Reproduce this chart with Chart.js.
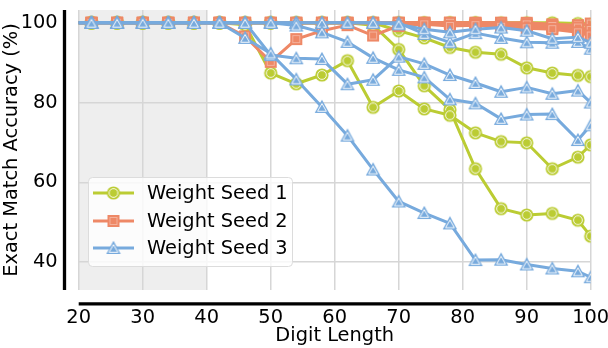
<!DOCTYPE html>
<html><head><meta charset="utf-8">
<script src="https://cdn.jsdelivr.net/npm/chart.js@4.4.1/dist/chart.umd.min.js"></script>
<style>html,body{margin:0;padding:0;background:#fff}</style>
</head><body>
<canvas id="c" width="608" height="348"></canvas>
<script>
// ---- data ----
const digitLengths = [18,22,26,30,34,38,42,46,50,54,58,62,66,70,74,78,82,86,90,94,98,100];
const xTicks = [20,30,40,50,60,70,80,90,100];
const yTicks = [40,60,80,100];
const seedLabels = ['Weight Seed 1','Weight Seed 2','Weight Seed 3'];

// Weight Seed 1 (green)
const seed1RunA = [100,100,100,100,100,100,100,99.5,87.4,84.7,86.9,90.5,78.8,82.9,78.4,76.8,72.4,70.2,69.9,63.4,66.3,69.4];
const seed1RunB = [100,100,100,100,100,100,100,100,100,100,100,100,99.4,93.3,84.2,78.2,63.4,53.4,51.8,52.2,50.5,46.5];
const seed1RunC = [100,100,100,100,100,100,100,100,100,100,100,100,100,98.0,96.2,93.8,92.6,92.1,88.7,87.4,86.8,86.5];
const seed1RunD = [100,100,100,100,100,100,100,100,100,100,100,100,100,100,100,100,100,99.6,99.2,99.4,98.6,97.8];
const seed1RunE = [100,100,100,100,100,100,100,100,100,100,100,100,100,100,100,100,100,100,100,100,99.8,99.6];

// Weight Seed 2 (orange)
const seed2RunA = [100,100,100,100,100,100,100,96.6,90.2,95.9,98.0,99.4,96.8,99.2,99.6,99.2,99.4,99.0,98.6,98.4,97.6,96.8];
const seed2RunB = [100,100,100,100,100,100,100,100,100,100,100,100,100,100,100,100,99.6,99.4,99.6,99.2,98.8,98.2];
const seed2RunC = [100,100,100,100,100,100,100,100,100,100,100,100,100,100,100,100,100,100,100,99.6,99.4,99.8];
const seed2RunD = [100,100,100,100,100,100,100,100,100,100,100,100,100,100,100,100,100,100,99.2,98.8,98.0,97.4];

// Weight Seed 3 (blue)
const seed3RunA = [100,100,100,100,100,100,100,96.2,92.3,85.8,78.9,71.7,63.2,55.2,52.3,49.7,40.5,40.6,39.4,38.4,37.7,36.2];
const seed3RunB = [100,100,100,100,100,100,100,100,91.9,91.1,90.9,84.6,85.7,91.5,89.7,86.9,84.9,82.7,83.8,82.2,83.0,80.0];
const seed3RunC = [100,100,100,100,100,100,100,100,100,99.3,97.6,95.2,91.2,88.2,86.3,80.8,79.8,75.9,77.0,77.1,70.6,74.3];
const seed3RunD = [100,100,100,100,100,100,100,100,100,100,100,100,100,99.6,98.4,97.6,98.4,98.8,98.0,96.0,96.4,95.0];
const seed3RunE = [100,100,100,100,100,100,100,100,100,100,100,100,100,100,97.2,95.1,97.4,96.2,95.1,95.0,95.2,93.5];

// ---- styles ----
const GREEN = '#bbcc33', ORANGE = '#ee8866', BLUE = '#77aadd';
const FONT = 'DejaVu Sans';
const FS = 19.4;

function markerCanvas(shape, color){
  const s = 16, c = document.createElement('canvas');
  c.width = s; c.height = s;
  const g = c.getContext('2d');
  g.fillStyle = color;
  g.lineJoin = 'miter';
  if (shape === 'circle'){
    g.beginPath(); g.arc(8,8,6.6,0,Math.PI*2); g.fill();
    g.strokeStyle = 'rgba(255,255,255,0.9)'; g.lineWidth = 1;
    g.beginPath(); g.arc(8,8,4.4,0,Math.PI*2); g.stroke();
  } else if (shape === 'rect'){
    g.fillRect(2,2,12,12);
    g.strokeStyle = 'rgba(255,255,255,0.35)'; g.lineWidth = 1;
    g.strokeRect(4.5,4.5,7,7);
  } else {
    g.beginPath(); g.moveTo(8,0.8); g.lineTo(0.8,14); g.lineTo(15.2,14); g.closePath(); g.fill();
    g.strokeStyle = 'rgba(255,255,255,0.95)'; g.lineWidth = 1;
    g.beginPath(); g.moveTo(8,4.6); g.lineTo(3.6,12.3); g.lineTo(12.4,12.3); g.closePath(); g.stroke();
  }
  return c;
}
const markers = {
  green: markerCanvas('circle', GREEN),
  orange: markerCanvas('rect', ORANGE),
  blue: markerCanvas('triangle', BLUE)
};

function ds(values, color, marker){
  return {
    data: digitLengths.map((x,i)=>({x, y: values[i]})),
    borderColor: color, backgroundColor: color,
    borderWidth: 3, pointStyle: marker, pointRadius: 7,
    pointHoverRadius: 7, tension: 0, clip: 0, fill: false
  };
}

// first dataset drawn on top in Chart.js
const datasets = [
  ...[seed3RunA,seed3RunB,seed3RunC,seed3RunD,seed3RunE].map(v=>ds(v,BLUE,markers.blue)),
  ...[seed2RunA,seed2RunB,seed2RunC,seed2RunD].map(v=>ds(v,ORANGE,markers.orange)),
  ...[seed1RunA,seed1RunB,seed1RunC,seed1RunD,seed1RunE].map(v=>ds(v,GREEN,markers.green))
];

const backgroundPlugin = {
  id: 'bg',
  beforeDraw(chart){
    const {ctx, chartArea:a, scales:{x}} = chart;
    ctx.save();
    ctx.fillStyle = '#eeeeee';
    const x0 = x.getPixelForValue(20), x1 = x.getPixelForValue(40);
    ctx.fillRect(x0, a.top, x1 - x0, a.bottom - a.top);
    ctx.restore();
  }
};

const spinePlugin = {
  id: 'spines',
  afterDraw(chart){
    const {ctx, chartArea:a} = chart;
    ctx.save();
    ctx.strokeStyle = '#000'; ctx.lineWidth = 3.3; ctx.lineCap = 'butt';
    ctx.beginPath(); ctx.moveTo(a.left - 14.2, a.top); ctx.lineTo(a.left - 14.2, a.bottom); ctx.stroke();
    ctx.beginPath(); ctx.moveTo(a.left, a.bottom + 13.8); ctx.lineTo(a.right, a.bottom + 13.8); ctx.stroke();
    ctx.restore();
  }
};

const legendPlugin = {
  id: 'innerLegend',
  afterDraw(chart){
    const ctx = chart.ctx;
    const colors = [GREEN, ORANGE, BLUE];
    const mk = [markers.green, markers.orange, markers.blue];
    ctx.save();
    const bx = 88.5, by = 177.5, bw = 204, bh = 89, r = 4;
    ctx.beginPath();
    ctx.moveTo(bx + r, by); ctx.lineTo(bx + bw - r, by); ctx.arcTo(bx + bw, by, bx + bw, by + r, r);
    ctx.lineTo(bx + bw, by + bh - r); ctx.arcTo(bx + bw, by + bh, bx + bw - r, by + bh, r);
    ctx.lineTo(bx + r, by + bh); ctx.arcTo(bx, by + bh, bx, by + bh - r, r);
    ctx.lineTo(bx, by + r); ctx.arcTo(bx, by, bx + r, by, r); ctx.closePath();
    ctx.fillStyle = 'rgba(255,255,255,0.8)'; ctx.fill();
    ctx.strokeStyle = '#dcdcdc'; ctx.lineWidth = 1; ctx.stroke();
    const rows = [193, 221, 248];
    ctx.font = FS + 'px "' + FONT + '"';
    ctx.textBaseline = 'middle'; ctx.textAlign = 'left';
    rows.forEach((yy, i) => {
      ctx.strokeStyle = colors[i]; ctx.lineWidth = 3;
      ctx.beginPath(); ctx.moveTo(93, yy); ctx.lineTo(134, yy); ctx.stroke();
      ctx.drawImage(mk[i], 113.5 - 8, yy - 8);
      ctx.fillStyle = '#000';
      ctx.fillText(seedLabels[i], 147, yy + 1);
    });
    ctx.restore();
  }
};

new Chart(document.getElementById('c'), {
  type: 'line',
  data: { datasets },
  options: {
    responsive: false, animation: false,
    layout: { padding: { top: 4, right: 17.3, left: 0, bottom: 0 } },
    plugins: { legend: { display: false }, tooltip: { enabled: false } },
    elements: { line: { borderJoinStyle: 'round', borderCapStyle: 'round' } },
    scales: {
      x: {
        type: 'linear', min: 20, max: 100,
        afterBuildTicks(s){ s.ticks = xTicks.map(v=>({value:v})); },
        afterFit(s){ s.height = 58; s.paddingLeft = 0; s.paddingRight = 0; },
        border: { display: false },
        grid: { color: '#d6d6d6', lineWidth: 1.5, drawTicks: false },
        ticks: { color: '#000', font: { family: FONT, size: FS }, padding: 16, maxRotation: 0 },
        title: { display: true, text: 'Digit Length', color: '#000', font: { family: FONT, size: FS }, padding: { top: 0, bottom: 0 } }
      },
      y: {
        type: 'linear', min: 33.0, max: 103.2,
        afterBuildTicks(s){ s.ticks = yTicks.map(v=>({value:v})); },
        afterFit(s){ s.width = 78.7; s.paddingTop = 0; s.paddingBottom = 0; },
        border: { display: false },
        grid: { color: '#d6d6d6', lineWidth: 1.5, drawTicks: false },
        ticks: { color: '#000', font: { family: FONT, size: FS }, padding: 21 },
        title: { display: true, text: 'Exact Match Accuracy (%)', color: '#000', font: { family: FONT, size: FS }, padding: { top: 0, bottom: 0 } }
      }
    }
  },
  plugins: [backgroundPlugin, spinePlugin, legendPlugin]
});
</script>
</body></html>
